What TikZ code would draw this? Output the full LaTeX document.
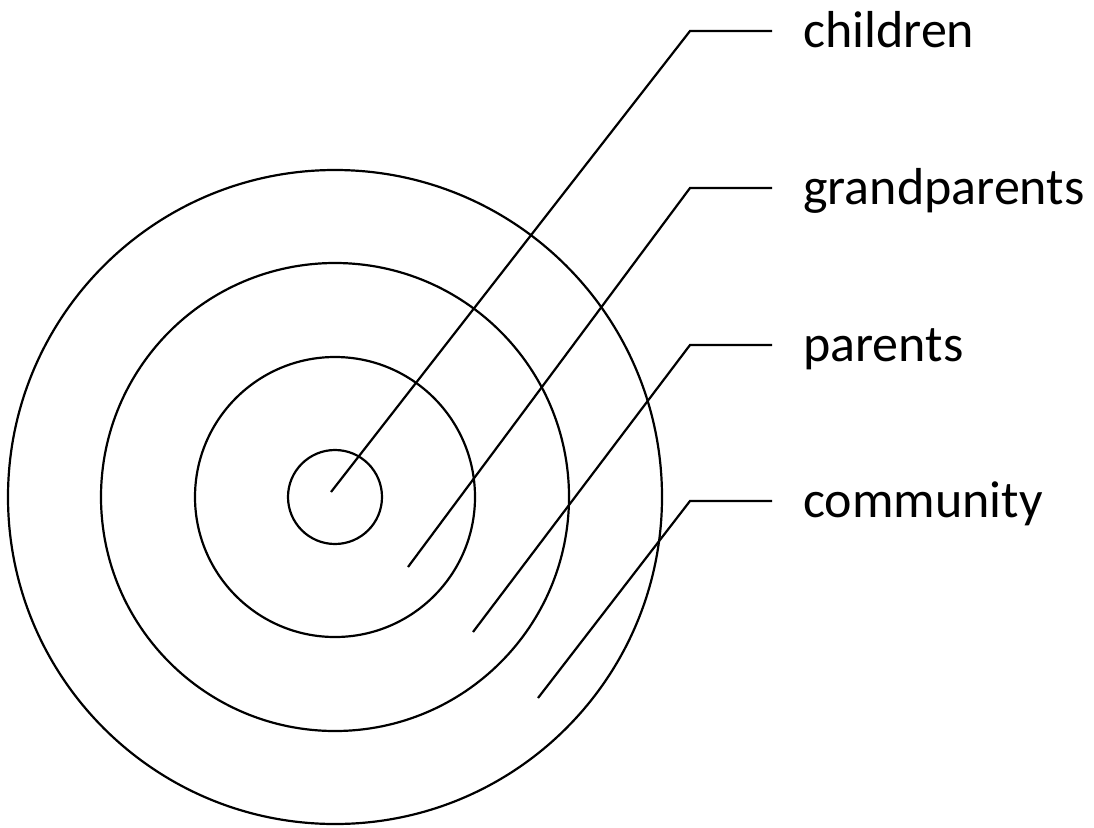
\documentclass[tikz,border=0pt]{standalone}
\usepackage{fontspec}
\setmainfont{Carlito}
\begin{document}
\begin{tikzpicture}[x=1pt,y=-1pt,
  ring/.style={draw=black,line width=2.2pt},
  leader/.style={draw=black,line width=2.2pt},
  lbl/.style={inner sep=0pt,anchor=base west,font=\fontsize{52}{60}\selectfont}]
\useasboundingbox (0,0) rectangle (1094,827);
\coordinate (c) at (335,497);
\draw[ring] (c) circle[radius=327];
\draw[ring] (c) circle[radius=234];
\draw[ring] (c) circle[radius=140];
\draw[ring] (c) circle[radius=47];
% ends
\coordinate (e1) at (331,492);
\coordinate (e2) at (408,567);
\coordinate (e3) at (473,632);
\coordinate (e4) at (538,698);
\coordinate (b1) at (690,31);
\coordinate (b2) at (690,188);
\coordinate (b3) at (690,345);
\coordinate (b4) at (690,501);
\coordinate (h1) at (772,31);
\coordinate (h2) at (772,188);
\coordinate (h3) at (772,345);
\coordinate (h4) at (772,501);
\node[lbl] (l1) at (803,47) {children};
\node[lbl] (l2) at (803,204) {grandparents};
\node[lbl] (l3) at (803,361) {parents};
\node[lbl] (l4) at (803,517) {community};
\draw[leader] (e1) -- (b1) -- (h1);
\draw[leader] (e2) -- (b2) -- (h2);
\draw[leader] (e3) -- (b3) -- (h3);
\draw[leader] (e4) -- (b4) -- (h4);
\end{tikzpicture}
\end{document}
